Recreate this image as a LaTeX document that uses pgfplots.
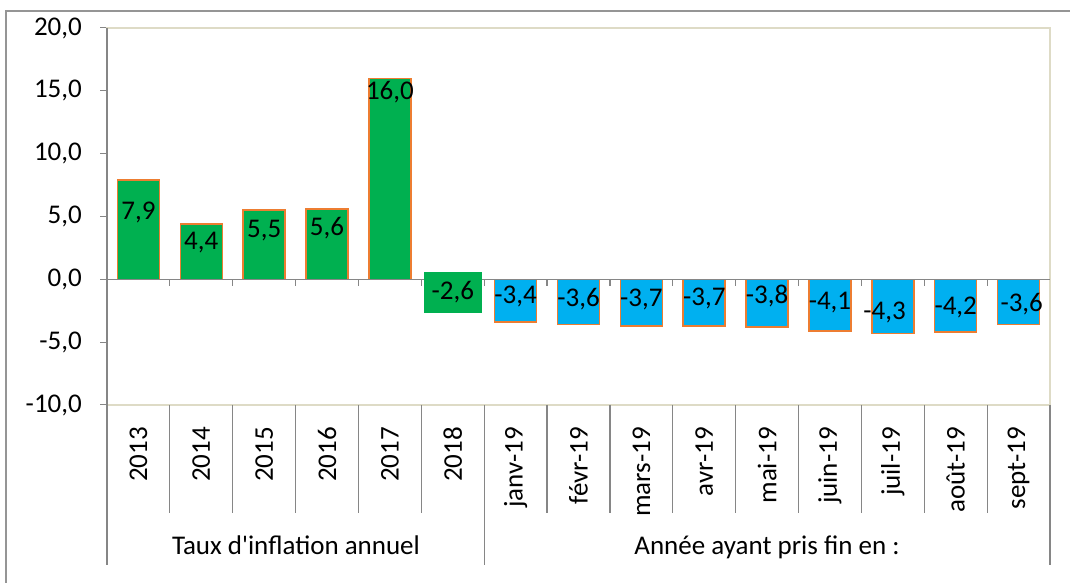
\documentclass[border=0pt]{standalone}
\usepackage{pgfplots}
\usepackage{pgfplotstable}
\pgfplotsset{compat=1.18}
\usepackage{fontspec}
\setmainfont{Carlito}
\definecolor{xgreen}{HTML}{00B050}
\definecolor{xblue}{HTML}{00B0F0}
\definecolor{xorange}{HTML}{ED7D31}
\definecolor{xgray}{HTML}{868686}
\definecolor{xcream}{HTML}{DEDBC6}
\definecolor{xborder}{HTML}{959595}

\pgfplotstableread{
x y
0 7.9
1 4.4
2 5.5
3 5.6
4 16.0
5 -2.6
}\annual
\pgfplotstableread{
x y
6 -3.4
7 -3.6
8 -3.7
9 -3.7
10 -3.8
11 -4.1
12 -4.3
13 -4.2
14 -3.6
}\monthly
\pgfplotstableread{
x y l
0 5.33 7,9
1 2.94 4,4
2 3.90 5,5
3 4.06 5,6
4 14.88 16,0
6 -1.35 -3,4
7 -1.59 -3,6
8 -1.59 -3,7
9 -1.51 -3,7
10 -1.35 -3,8
11 -1.83 -4,1
11.87 -2.63 -4,3
13 -2.23 -4,2
14.05 -1.99 -3,6
}\labels
\pgfplotstableread{
x y l
5 -1.05 -2,6
}\labelsb

\begin{document}
\fontsize{27}{32}\selectfont
\begin{tikzpicture}[x=1pt,y=1pt]
\useasboundingbox (0,0) rectangle (1070,583);
\draw[xborder, line width=1.2pt] (6,-10) rectangle (1090,572);
\begin{axis}[
  at={(107pt,178pt)}, anchor=south west,
  width=943pt, height=377pt, scale only axis,
  xmin=-0.5, xmax=14.5, ymin=-10, ymax=20,
  xtick={0,...,14},
  xticklabels={2013,2014,2015,2016,2017,2018,janv-19,févr-19,mars-19,avr-19,mai-19,juin-19,juil-19,août-19,sept-19},
  xtick style={draw=none},
  xticklabel style={rotate=90, anchor=east, inner sep=0pt},
  xticklabel shift=15pt,
  ytick={-10,-5,...,20},
  ytick pos=left,
  tick align=outside,
  major tick length=7pt,
  ytick style={draw=xgray, line width=1pt},
  scaled y ticks=false,
  yticklabel style={/pgf/number format/fixed, /pgf/number format/fixed zerofill, /pgf/number format/precision=1, /pgf/number format/use comma, /pgf/number format/assume math mode=true, inner sep=0pt},
  yticklabel shift=18pt,
  axis line style={draw=xcream, line width=1.5pt},
  clip=false,
]
\addplot[ybar, bar width=42pt, bar shift=0pt, fill=xgreen, draw=xorange, line width=1.5pt] table {\annual};
\addplot[ybar, bar width=42pt, bar shift=0pt, fill=xblue, draw=xorange, line width=1.5pt] table {\monthly};
\draw[xgray, line width=1.5pt] (axis cs:-0.5,0) -- (axis cs:14.5,0);
\addplot[draw=none, mark=none, nodes near coords, point meta=explicit symbolic,
  every node near coord/.append style={anchor=center, inner sep=0pt, text=black}] table[meta=l] {\labels};
\addplot[draw=none, mark=none, nodes near coords, point meta=explicit symbolic,
  every node near coord/.append style={anchor=center, fill=xgreen, text=black, minimum width=58pt, minimum height=41pt, inner sep=0pt}] table[meta=l] {\labelsb};
\draw[xgray, line width=1.5pt] (rel axis cs:0,0) -- (rel axis cs:0,1);
\end{axis}
% small ticks on zero line
\foreach \k in {1,...,14} {
  \draw[xgray, line width=1.2pt] ({107+\k*62.8667},303.5) -- ++(0,-7);
}
% category separators
\foreach \k in {1,2,3,4,5,7,8,9,10,11,12,13,14} {
  \draw[xgray, line width=1.2pt] ({107+\k*62.8667},178) -- ++(0,-108);
}
\foreach \k in {0,6,15} {
  \draw[xgray, line width=1.2pt] ({107+\k*62.8667},178) -- ++(0,-160);
}
\node[anchor=base] at (296,28) {Taux d\textquotesingle inflation annuel};
\node[anchor=base] at (767,28) {Année ayant pris fin en :};
\end{tikzpicture}
\end{document}
